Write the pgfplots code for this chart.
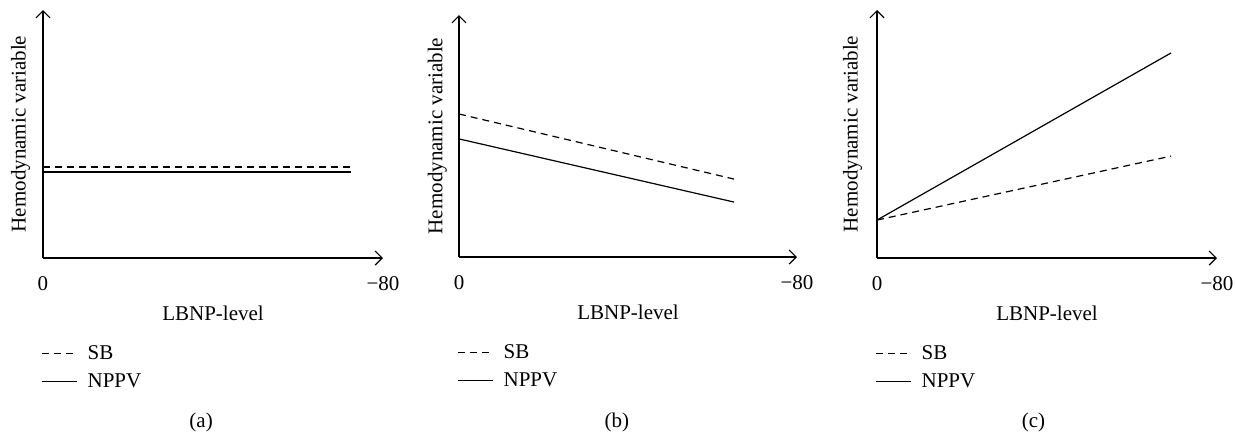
\documentclass[border=0pt]{standalone}
\usepackage{fontspec}
\setmainfont{Liberation Serif}
\usepackage{pgfplots}
\pgfplotsset{compat=1.18}
\usetikzlibrary{arrows.meta}

\pgfplotsset{
  panel/.style={
    scale only axis,
    anchor=south west,
    xmin=0, xmax=80, ymin=0, ymax=100,
    enlargelimits=false,
    clip=false,
    axis lines=left,
    axis line style={line width=0.6pt,-{Straight Barb[length=3.5pt,width=7pt]}},
    xtick={0,80},
    xticklabels={0,−80},
    ytick=\empty,
    major tick length=0pt,
    /pgf/number format/assume math mode=true,
    font=\fontsize{10.5pt}{12pt}\selectfont,
    xticklabel style={anchor=base,yshift=-16pt},
    xlabel={LBNP-level},
    xlabel style={at={(axis description cs:0.5,0)},anchor=base,yshift=-31pt},
    ylabel={Hemodynamic variable},
    legend style={at={(axis description cs:0,0)},anchor=north west,
      draw=none,fill=none,xshift=-4pt,yshift=-39.5pt,row sep=1.5pt,
      /tikz/every odd column/.append style={column sep=3pt}},
    legend cell align=left,
    legend image code/.code={\draw[##1] (0pt,0pt) -- (17.5pt,0pt);},
  },
  sbline/.style={black,no markers,line width=0.6pt,dash pattern=on 3.5pt off 2.5pt},
  npline/.style={black,no markers,line width=0.6pt,solid},
}

\begin{document}
\begin{tikzpicture}
\path[use as bounding box] (0,0) rectangle (618pt,218pt);

% (a) both unchanged
\begin{axis}[panel,at={(21.5pt,89pt)},width=170pt,height=124pt,
  ylabel style={at={(axis description cs:-0.066,0.5)},anchor=center}]
\addplot[sbline] coordinates {(0,36.7) (72.5,36.7)};
\addplot[npline] coordinates {(0,34.7) (72.5,34.7)};
\legend{SB,NPPV}
\node at (axis description cs:0.465,0) [yshift=-82pt] {(a)};
\end{axis}

% (b) both decreasing
\begin{axis}[panel,at={(229.5pt,89.5pt)},width=169pt,height=121pt,
  ylabel style={at={(axis description cs:-0.064,0.5)},anchor=center}]
\addplot[sbline] coordinates {(0,59.1) (65.1,32.2)};
\addplot[npline] coordinates {(0,48.8) (65.1,22.7)};
\legend{SB,NPPV}
\node at (axis description cs:0.467,0) [yshift=-82.5pt] {(b)};
\end{axis}

% (c) both increasing
\begin{axis}[panel,at={(438.5pt,89pt)},width=170pt,height=124pt,
  ylabel style={at={(axis description cs:-0.072,0.5)},anchor=center}]
\addplot[sbline] coordinates {(0,15.3) (69.2,41.1)};
\addplot[npline] coordinates {(0,15.3) (69.2,82.7)};
\legend{SB,NPPV}
\node at (axis description cs:0.46,0) [yshift=-82pt] {(c)};
\end{axis}
\end{tikzpicture}
\end{document}
